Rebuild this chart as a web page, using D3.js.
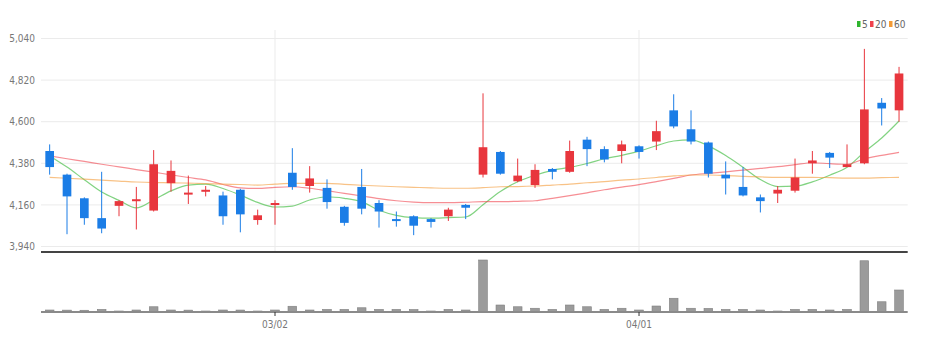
<!DOCTYPE html>
<html>
<head>
<meta charset="utf-8">
<script src="https://cdn.jsdelivr.net/npm/d3@7"></script>
<style>
    body { margin: 0; background: #fff; }
    text { font-family: "Liberation Sans Narrow", "DejaVu Sans Condensed", sans-serif; }
</style>
</head>
<body>
<div id="stock-chart"></div>
<script>
const dates = [
    "02/10","02/11","02/14","02/15","02/16","02/17","02/18","02/21","02/22","02/23","02/24","02/25","02/28",
    "03/02","03/03","03/04","03/07","03/08","03/10","03/11","03/14","03/15","03/16","03/17","03/18",
    "03/21","03/22","03/23","03/24","03/25","03/28","03/29","03/30","03/31",
    "04/01","04/04","04/05","04/06","04/07","04/08","04/11","04/12","04/13","04/14","04/15",
    "04/18","04/19","04/20","04/21","04/22"
];
const openPrices = [4445,4320,4195,4090,4155,4180,4130,4275,4220,4235,4210,4240,4080,4165,4330,4260,4250,4150,4255,4170,
    4085,4100,4085,4100,4160,4320,4440,4285,4265,4350,4335,4505,4455,4445,4470,4495,4660,4560,4490,4320,
    4255,4200,4220,4235,4380,4435,4360,4380,4700,4660];
const highPrices = [4480,4325,4200,4335,4185,4255,4450,4395,4315,4260,4230,4245,4135,4185,4460,4365,4295,4155,4350,4185,
    4125,4105,4090,4145,4165,4750,4445,4405,4375,4355,4500,4520,4470,4500,4475,4605,4745,4660,4495,4390,
    4360,4215,4260,4405,4445,4440,4480,4985,4725,4890];
const lowPrices = [4320,4005,4055,4010,4100,4030,4125,4230,4165,4205,4055,4015,4055,4055,4240,4225,4140,4050,4110,4040,
    4045,4000,4040,4075,4085,4305,4320,4280,4250,4295,4330,4365,4385,4380,4405,4450,4565,4480,4305,4215,
    4205,4120,4170,4225,4325,4355,4360,4375,4580,4600];
const closePrices = [4360,4205,4090,4035,4180,4190,4375,4340,4225,4240,4100,4110,4105,4170,4255,4300,4175,4065,4140,4125,
    4080,4050,4070,4135,4145,4465,4325,4315,4345,4335,4445,4455,4400,4480,4440,4550,4575,4495,4325,4300,
    4210,4180,4240,4305,4395,4410,4375,4665,4670,4855];
const volumes = [80000,75000,70000,105000,40000,80000,210000,80000,75000,40000,80000,78000,40000,80000,230000,80000,105000,105000,170000,105000,
    105000,100000,40000,105000,80000,2080000,280000,210000,150000,105000,280000,210000,105000,150000,80000,240000,550000,150000,145000,105000,
    105000,80000,40000,105000,105000,80000,105000,2050000,410000,880000];

// moving averages
const ma5 = [4419,4360,4293,4228,4184,4144,4186,4234,4265,4270,4247,4212,4173,4149,4154,4186,4203,4195,4177,4132,
    4105,4093,4090,4093,4096,4161,4231,4282,4317,4343,4358,4379,4404,4422,4444,4473,4498,4504,4472,4421,
    4359,4294,4257,4259,4282,4317,4359,4440,4514,4604];
const ma20 = [4419,4404,4390,4375,4361,4347,4333,4319,4305,4292,4268,4250,4247,4253,4256,4248,4235,4221,4207,4193,
    4182,4175,4172,4172,4174,4177,4177,4179,4182,4195,4209,4224,4240,4254,4267,4283,4300,4318,4327,4335,
    4344,4353,4362,4373,4383,4378,4375,4404,4422,4438];
const ma60 = [4306,4301,4296,4291,4286,4281,4278,4277,4275,4273,4270,4268,4265,4270,4274,4274,4274,4269,4264,4260,
    4256,4253,4250,4248,4248,4251,4256,4257,4260,4265,4270,4277,4283,4291,4297,4305,4313,4318,4318,4315,
    4311,4308,4306,4306,4306,4304,4302,4302,4304,4306];

const priceTicks = [3940, 4160, 4380, 4600, 4820, 5040];
const dateTicks = ["03/02", "04/01"];
const maSeries = [
    { name: "5", values: ma5, color: "#2fb52f" },
    { name: "20", values: ma20, color: "#f0424c" },
    { name: "60", values: ma60, color: "#f39a35" }
];

const width = 926;
const height = 351;
const left = 41;
const right = 907.7;
const upColor = "#e8363d";
const downColor = "#1b7de6";

const svg = d3.select("#stock-chart")
    .append("svg")
    .attr("width", width)
    .attr("height", height);

const x = d3.scaleBand()
    .domain(dates)
    .range([left, right]);

const y = d3.scaleLinear()
    .domain([3940, 5040])
    .range([246.5, 38.5]);

const yVol = d3.scaleLinear()
    .domain([0, d3.max(volumes)])
    .range([312, 260]);

const cx = d => x(d) + x.bandwidth() / 2;

// grid
svg.append("g")
    .selectAll("line")
    .data(priceTicks)
    .enter()
    .append("line")
    .attr("x1", left)
    .attr("x2", right)
    .attr("y1", d => y(d))
    .attr("y2", d => y(d))
    .attr("stroke", "#ebebeb")
    .attr("stroke-width", 1);

svg.append("g")
    .selectAll("line")
    .data(dateTicks)
    .enter()
    .append("line")
    .attr("x1", d => cx(d))
    .attr("x2", d => cx(d))
    .attr("y1", 30)
    .attr("y2", 252)
    .attr("stroke", "#ebebeb")
    .attr("stroke-width", 1);

// y axis labels
const yAxis = svg.append("g")
    .attr("transform", `translate(${left - 3}, 0)`)
    .call(d3.axisLeft(y).tickValues(priceTicks).tickSize(0).tickFormat(d3.format(",")));
yAxis.select(".domain").remove();
yAxis.selectAll("text")
    .attr("fill", "#777")
    .style("font-size", "10px");

// moving averages
const line = d3.line()
    .x((d, i) => cx(dates[i]))
    .y(d => y(d))
    .curve(d3.curveMonotoneX);

svg.append("g")
    .selectAll("path")
    .data(maSeries)
    .enter()
    .append("path")
    .attr("d", d => line(d.values))
    .attr("fill", "none")
    .attr("stroke", d => d.color)
    .attr("stroke-width", 1.2)
    .attr("opacity", 0.6);

// candles
const candles = svg.append("g")
    .selectAll("g")
    .data(dates.map((date, i) => ({
        date: date,
        open: openPrices[i],
        high: highPrices[i],
        low: lowPrices[i],
        close: closePrices[i]
    })))
    .enter()
    .append("g");

candles.append("line")
    .attr("x1", d => cx(d.date))
    .attr("x2", d => cx(d.date))
    .attr("y1", d => y(d.high))
    .attr("y2", d => y(d.low))
    .attr("stroke", d => d.close >= d.open ? upColor : downColor)
    .attr("stroke-width", 1);

const bodyWidth = x.bandwidth() * 0.5;
candles.append("rect")
    .attr("x", d => cx(d.date) - bodyWidth / 2)
    .attr("width", bodyWidth)
    .attr("y", d => y(Math.max(d.open, d.close)))
    .attr("height", d => Math.max(2, Math.abs(y(d.open) - y(d.close))))
    .attr("fill", d => d.close >= d.open ? upColor : downColor);

// panel separator
svg.append("line")
    .attr("x1", left)
    .attr("x2", right)
    .attr("y1", 252)
    .attr("y2", 252)
    .attr("stroke", "#444")
    .attr("stroke-width", 2);

// volume
svg.append("g")
    .selectAll("rect")
    .data(volumes)
    .enter()
    .append("rect")
    .attr("x", (d, i) => cx(dates[i]) - bodyWidth / 2)
    .attr("width", bodyWidth)
    .attr("y", d => yVol(d))
    .attr("height", d => 312 - yVol(d))
    .attr("fill", "#9b9b9b")
    .attr("stroke", "#808080")
    .attr("stroke-width", 0.6);

svg.append("line")
    .attr("x1", left)
    .attr("x2", right)
    .attr("y1", 312)
    .attr("y2", 312)
    .attr("stroke", "#8a8a8a")
    .attr("stroke-width", 2);

// x axis
const xAxis = svg.append("g")
    .attr("transform", "translate(0, 312)")
    .call(d3.axisBottom(x).tickValues(dateTicks).tickSize(4).tickPadding(5));
xAxis.select(".domain").remove();
xAxis.selectAll("line").attr("stroke", "#333");
xAxis.selectAll("text")
    .attr("fill", "#777")
    .style("font-size", "10px");

// legend
const legend = svg.append("g")
    .attr("transform", "translate(857, 0)")
    .selectAll("g")
    .data(maSeries)
    .enter()
    .append("g")
    .attr("transform", (d, i) => `translate(${[0, 13, 32][i]}, 0)`);

legend.append("rect")
    .attr("y", 21)
    .attr("width", 3.5)
    .attr("height", 6)
    .attr("fill", d => d.color);

legend.append("text")
    .attr("x", 5)
    .attr("y", 27.5)
    .attr("fill", "#666")
    .style("font-size", "10px")
    .text(d => d.name);
</script>
</body>
</html>
